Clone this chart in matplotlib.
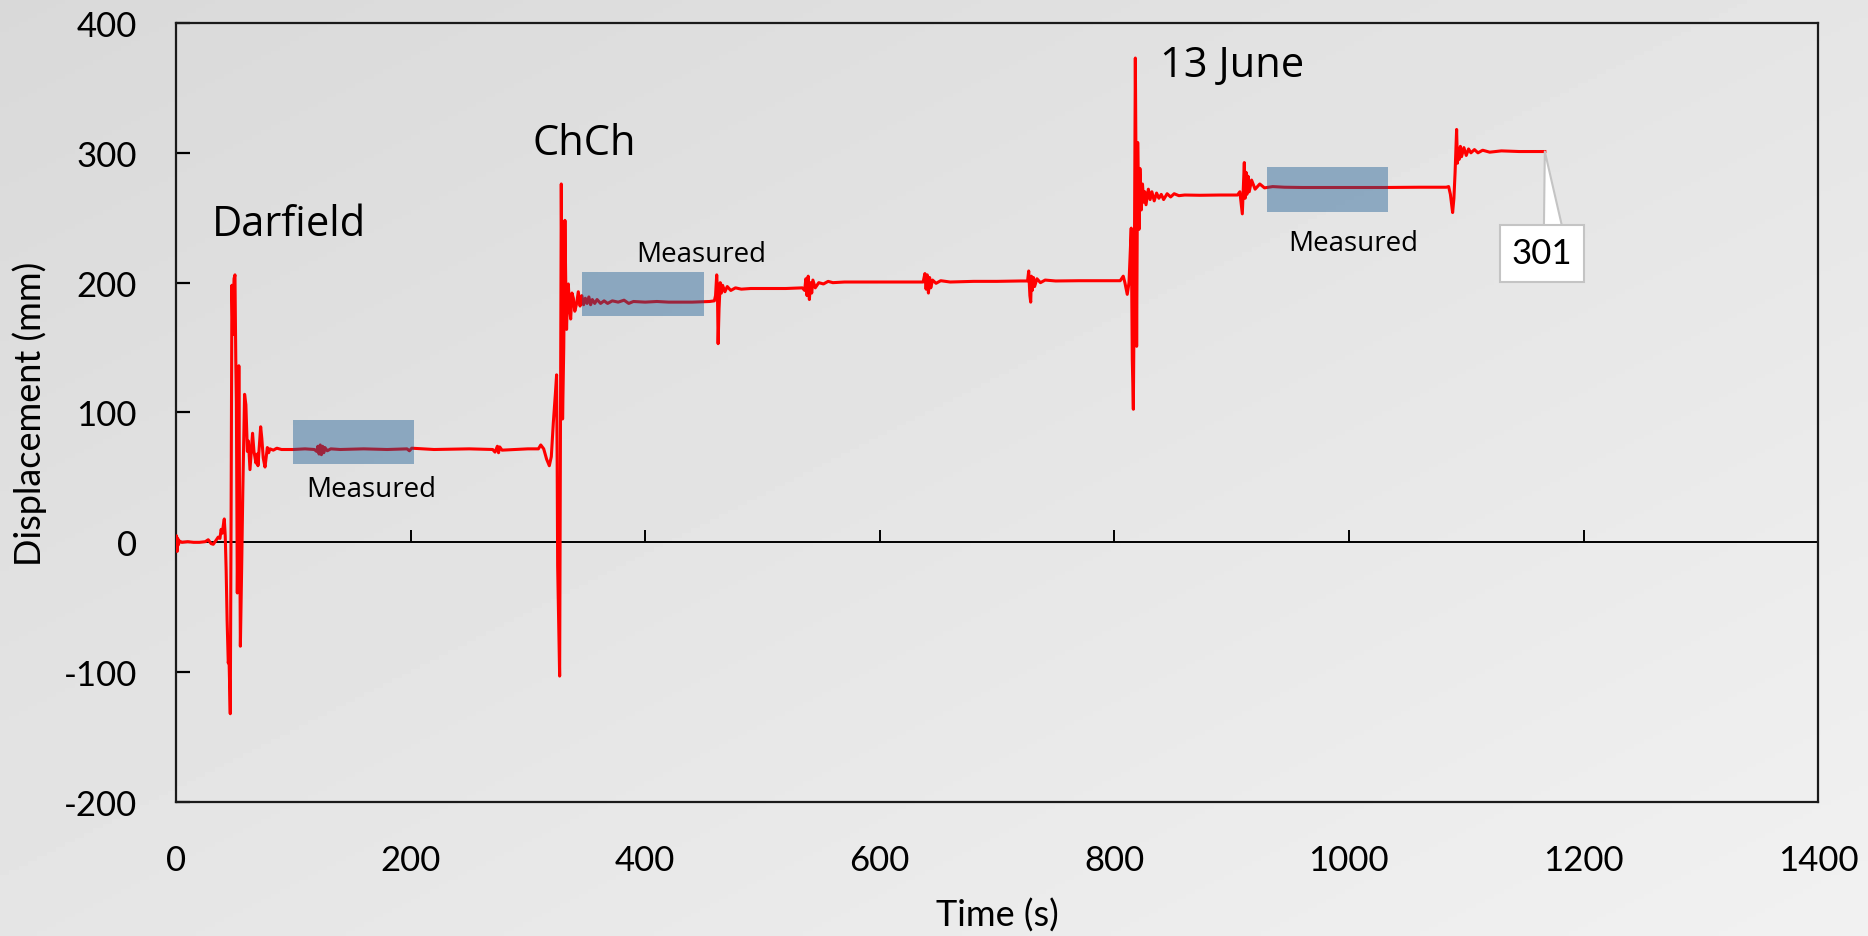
import numpy as np
import matplotlib.pyplot as plt
from matplotlib.patches import Rectangle

plt.rcParams['axes.unicode_minus'] = False

# Displacement record (time in s, displacement in mm), one block per event
darfield_t = [0, 0.5, 1, 1.5, 2, 3, 5, 10, 15, 20, 25, 27.5, 30, 31.8, 33, 36,
              37.5, 38.5, 39.5, 40.5, 41.2, 42, 42.8, 43.6, 44.6, 45.2, 46.3,
              47.0, 47.7, 48.5, 49.5, 50.3, 51.0, 51.5, 52.3, 53.0, 53.6, 54.2,
              54.9, 56.0, 57.0, 58.5, 59.6, 60.9, 61.8, 63.1, 65.3, 66.5, 68.2,
              69.3, 69.9, 72.2, 73.2, 74.4, 75.9, 77.9, 79.0, 80.1, 83, 86, 90,
              100, 110, 118, 120, 121, 122, 123, 124, 125, 126, 127, 129, 132,
              140, 160, 180, 197, 199, 201, 220, 250, 270, 272, 274, 275, 276,
              278, 290]
darfield_d = [0, 5, -7, 3, -2, 1, 0, 0.5, 0, 0, 0.5, 2, -1, -1.5, 0, 4,
              3, 10, 7, 14, 18, 5, -22, -60, -93, -88, -132,
              20, 198, 160, 203, 206, 140, 108, -39, 30, 136, 40,
              -80, -20, 40, 114, 106, 70, 78, 56, 84, 70, 61,
              68, 59, 89, 80, 65, 58, 73, 69, 72, 71, 72.5, 71.5,
              71.5, 72, 71.5, 70, 74, 68, 75, 67.5, 74, 69, 73, 70.5, 72,
              71.5, 72, 71.5, 72, 70.5, 72.5, 71.5, 72, 71.5, 69.5, 74, 69, 73.5,
              71, 71.5]

chch_t = [300, 309, 311, 313.5, 316, 318.3, 320, 321.7, 323.5, 324.5, 325,
          325.4, 326.2, 327.1, 327.8, 328.5, 329.1, 329.6, 330.6, 331.6, 332.3,
          333, 333.6, 334.5, 335.5, 336.5, 337.6, 338.8, 340, 341.6, 343,
          344.5, 346, 347.5, 349, 350.5, 352, 353.5, 355, 357, 359, 362, 365,
          368, 372, 377, 382, 386, 390, 400, 410, 420, 440, 455, 459, 460,
          461, 461.6, 462.2, 463, 464, 465, 466, 468, 470, 473, 477, 482, 490,
          500, 520, 534, 536, 537, 538, 539, 540, 541, 542, 543, 545, 548,
          552, 556, 560, 570, 590, 620, 637, 638.5, 639.5, 640.5, 641.5,
          642.5, 643.5, 645, 648, 652, 660, 680, 700, 720, 726, 727, 728,
          728.7, 729.3, 730, 731, 732, 734, 737, 741, 750, 770, 800, 805]
chch_d = [72, 72, 75, 72, 64, 59, 66, 92, 115, 129, 60,
          -18, -60, -103, 80, 276, 180, 95, 150, 248, 200,
          164, 185, 199, 180, 172, 192, 188, 178, 184, 193,
          182, 190, 183, 188, 184, 189, 183, 187, 184, 187, 184, 186,
          184, 186, 185, 186.5, 184, 185.5, 185, 185.5, 185, 185, 185.5, 186, 190,
          206, 195, 153, 180, 200, 192, 198, 193, 197, 194, 196, 195, 195.5,
          195.5, 195.5, 196, 194, 203, 190, 205, 187, 200, 192, 202, 196, 200,
          199, 201, 200, 200.5, 200.5, 200.5, 200.5, 207, 195, 206, 192,
          204, 196, 202, 199.5, 201.5, 200.5, 201, 201, 201.3, 201.3, 209, 190,
          185, 205, 194, 204, 197, 203, 200, 202, 201.3, 201.5, 201.5, 201.5]

june_t = [807.6, 809, 811, 812.5, 814.4, 815.3, 816.2, 817, 817.9, 818.4,
          819, 819.9, 821, 821.8, 823, 824, 825, 826, 827, 829, 830.5, 832,
          834, 836, 838, 840, 842, 845, 848, 851, 855, 860, 873, 890, 905,
          907, 908, 909.1, 910, 910.8, 911.5, 912.3, 913, 914, 915, 917, 920,
          924, 928, 935, 945, 960, 990, 1030, 1060, 1083]
june_d = [205, 200, 191, 200, 242, 141, 102.5, 200, 373, 300,
          151, 308, 241, 288, 256, 276, 262, 270, 260, 272, 264, 270,
          263, 269, 265, 268, 264, 268.5, 266, 268.5, 267, 267.5, 267.3, 267.5,
          267.5, 270, 262, 253, 275, 292.5, 265, 285, 268, 282, 270, 279, 272,
          276, 273, 274, 273.5, 273.3, 273.3, 273.3, 273.5, 273.5]

final_t = [1085, 1086.5, 1088.4, 1089.5, 1090.5, 1091.8, 1092.5, 1093.3, 1094,
           1095, 1096, 1098, 1100, 1102, 1104, 1107, 1110, 1114, 1120, 1130,
           1145, 1167]
final_d = [274, 268, 254, 265, 285, 318, 292, 303, 295,
           305, 297, 304, 298, 303, 300, 302.5, 300, 302, 300.5, 301.5,
           301, 301]

# Windows used for the measured values
measured_t0 = [100, 346, 930]
measured_t1 = [203, 450, 1033]
measured_lo = [60, 174.5, 254.5]
measured_hi = [94, 208.5, 289]
measured_label_t = [166.8, 447.4, 1004]
measured_label_d = [35.5, 216.3, 225.3]

event_names = ['Darfield', 'ChCh', '13 June']
event_t = [30.7, 303.8, 838.9]
event_d = [236.6, 299, 359.3]

time_s = darfield_t + chch_t + june_t + final_t
disp_mm = darfield_d + chch_d + june_d + final_d

fig = plt.figure(figsize=(18.68, 9.37), dpi=100)

# soft grey diagonal backdrop
bg = fig.add_axes([0, 0, 1, 1], zorder=-10)
gx, gy = np.meshgrid(np.linspace(0, 1, 200), np.linspace(0, 1, 200))
bg.imshow(0.85 + 0.095 * (gx + gy) / 2, cmap='gray', vmin=0, vmax=1,
          extent=(0, 1, 0, 1), aspect='auto', origin='upper')
bg.axis('off')

ax = fig.add_axes([0.0942, 0.143, 0.8791, 0.8314])
ax.set_facecolor('none')
ax.set_xlim(0, 1400)
ax.set_ylim(-200, 400)
ax.set_xticks(range(0, 1401, 200))
ax.set_yticks(range(-200, 401, 100))
for s in ax.spines.values():
    s.set_linewidth(1.6)
    s.set_color('#1a1a1a')
ax.tick_params(axis='x', length=0, pad=30, labelsize=25)
ax.tick_params(axis='y', direction='in', length=10, width=1.6, pad=28,
               labelsize=25)
for lab in ax.get_xticklabels() + ax.get_yticklabels():
    lab.set_family('Lato')

# horizontal axis line through zero with its own tick marks
zero_axis = ax.secondary_xaxis(0, transform=ax.transData)
zero_axis.set_xticks(range(0, 1401, 200))
zero_axis.tick_params(direction='in', length=9, width=1.4, labelbottom=False)
zero_axis.spines['bottom'].set_linewidth(1.4)
zero_axis.spines['bottom'].set_color('black')

ax.plot(time_s, disp_mm, color='red', lw=2.2, zorder=3)

for t0, t1, lo, hi in zip(measured_t0, measured_t1, measured_lo, measured_hi):
    ax.add_patch(Rectangle((t0, lo), t1 - t0, hi - lo, fc=(0.08, 0.345, 0.57),
                           alpha=0.42, ec='none', zorder=4))
for t, d in zip(measured_label_t, measured_label_d):
    ax.text(t, d, 'Measured', fontsize=20, family='Open Sans', ha='center',
            va='baseline', zorder=5)

for name, t, d in zip(event_names, event_t, event_d):
    ax.text(t, d, name, fontsize=30, family='Open Sans', ha='left',
            va='baseline', zorder=5)

ax.annotate(f'{final_d[-1]}', xy=(final_t[-1], final_d[-1]), xytext=(1164.6, 222.5),
            ha='center', va='center', fontsize=25, family='Lato', zorder=6,
            bbox=dict(boxstyle='square,pad=0.35', fc='white', ec='#c4c4c4', lw=1.5),
            arrowprops=dict(arrowstyle='wedge,tail_width=0.6', fc='white',
                            ec='#c4c4c4', lw=1.5, relpos=(0.7, 0.98),
                            patchA=None, shrinkA=0, shrinkB=0))

ax.set_xlabel('Time (s)', fontsize=26, family='Lato', va='top')
ax.xaxis.set_label_coords(0.5, -0.123)
ax.set_ylabel('Displacement (mm)', fontsize=26, family='Lato', va='center')
ax.yaxis.set_label_coords(-0.089, 0.5)

fig.savefig('out.png', dpi=100)
